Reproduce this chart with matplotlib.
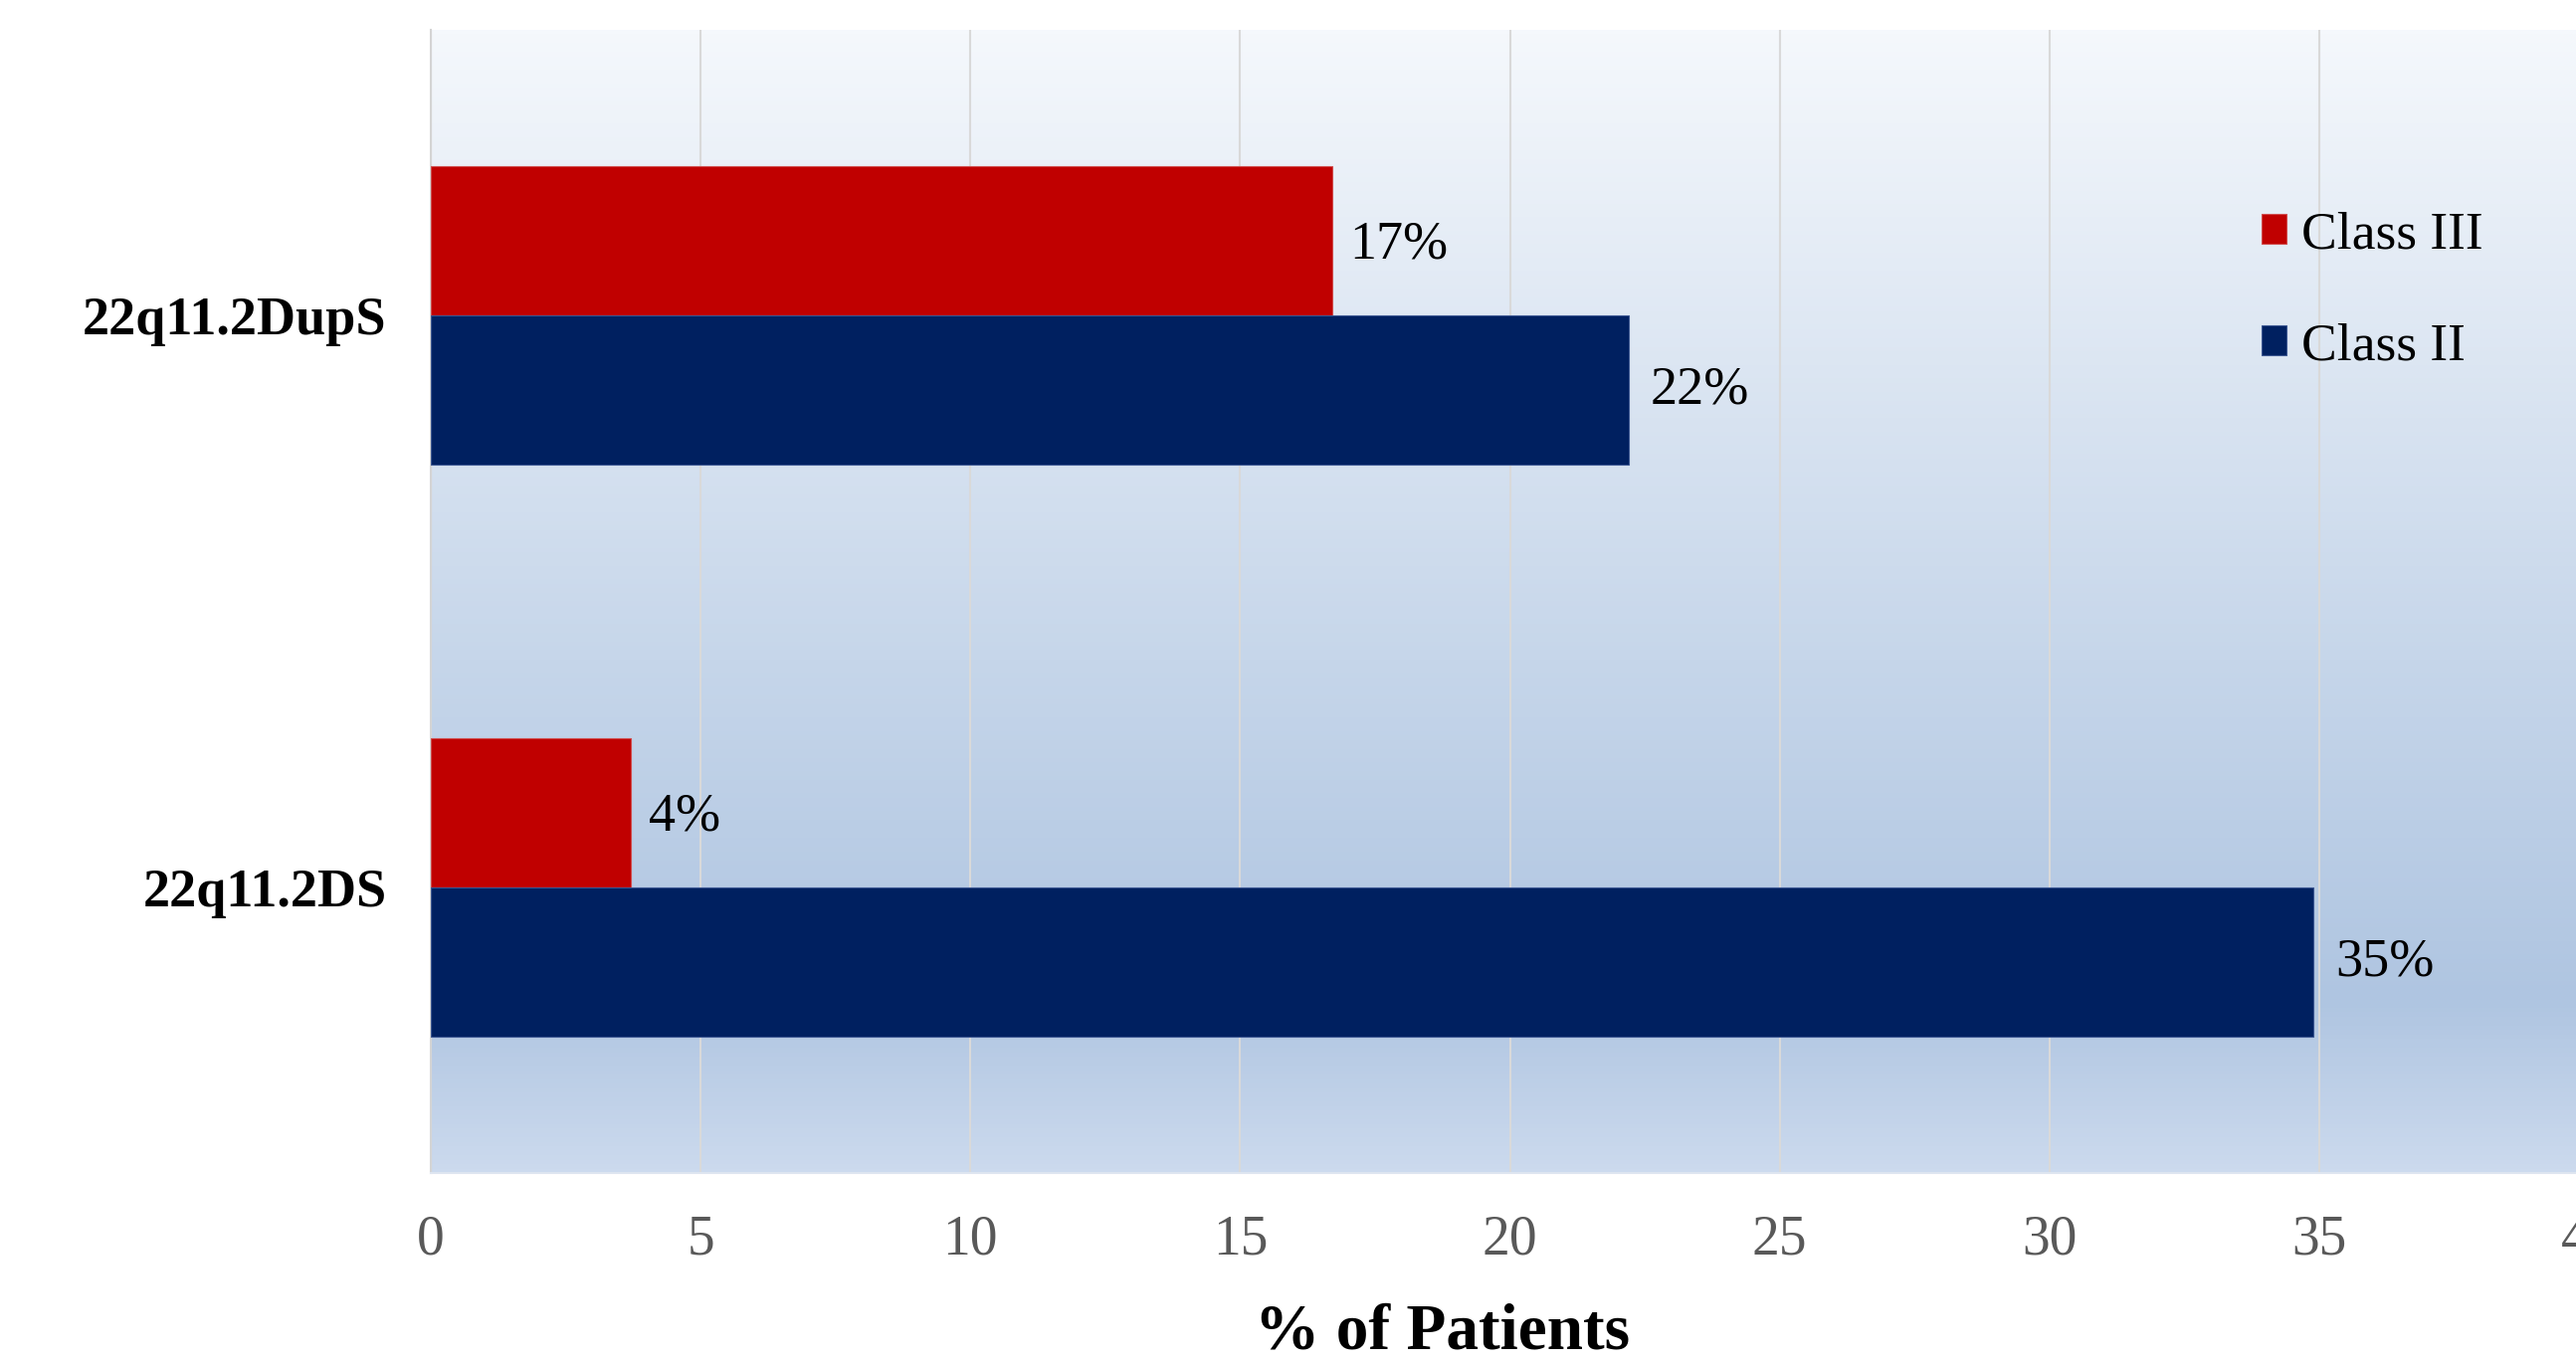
import matplotlib.pyplot as plt
import numpy as np
from matplotlib.colors import LinearSegmentedColormap

plt.rcParams['font.family'] = ['Liberation Serif', 'DejaVu Serif']

# data (top category first)
categories = ['22q11.2DupS', '22q11.2DS']
class_iii = [16.7, 3.7]
class_ii = [22.2, 34.9]
labels_iii = ['17%', '4%']
labels_ii = ['22%', '35%']
xticks = [0, 5, 10, 15, 20, 25, 30, 35, 40]

red = '#C00000'
navy = '#002060'

fig = plt.figure(figsize=(25.89, 13.70), dpi=100)
W, H = 2589, 1370
# plot area in pixels: left 433, right ~2602 (x=40 just off canvas), top 30, bottom 1179
ax = fig.add_axes([433 / W, 1 - 1179 / H, (2602 - 433) / W, (1179 - 30) / H])

# gradient fill of the plot area
cmap = LinearSegmentedColormap.from_list(
    'bg', [(0.0, '#f5f8fc'), (0.55, '#c6d6ea'), (0.85, '#afc5e1'), (1.0, '#ccdaee')])
grad = np.linspace(0, 1, 256).reshape(-1, 1)
ax.imshow(grad, cmap=cmap, aspect='auto', extent=[0, 1, 0, 1],
          transform=ax.transAxes, zorder=0)

h = 0.2615
y = np.arange(len(categories))
ax.barh(y - h / 2, class_iii, height=h, color=red, edgecolor='#d04a4a',
        linewidth=0.8, label='Class III', zorder=3)
ax.barh(y + h / 2, class_ii, height=h, color=navy, edgecolor='#3a5590',
        linewidth=0.8, label='Class II', zorder=3)

for i in range(len(categories)):
    ax.annotate(labels_iii[i], (class_iii[i], y[i] - h / 2), xytext=(13, -3),
                textcoords='offset points', va='center', ha='left',
                fontsize=39, color='black', zorder=4)
    ax.annotate(labels_ii[i], (class_ii[i], y[i] + h / 2), xytext=(16, 0),
                textcoords='offset points', va='center', ha='left',
                fontsize=39, color='black', zorder=4)

ax.set_xlim(0, 40)
ax.set_ylim(1.5, -0.5)
ax.set_xticks(xticks)
ax.set_xticklabels([str(t) for t in xticks])
ax.set_yticks(y)
ax.set_yticklabels(categories, fontweight='bold')
ax.tick_params(axis='x', length=0, pad=30, labelsize=40, labelcolor='#595959')
ax.tick_params(axis='y', length=0, pad=32, labelsize=39, labelcolor='black')

ax.grid(axis='x', color='#d9d9d9', linewidth=1.5, zorder=1)
ax.set_axisbelow(True)
for s in ['top', 'right']:
    ax.spines[s].set_visible(False)
ax.spines['left'].set_color('#d4d4d4')
ax.spines['left'].set_linewidth(1.5)
ax.spines['bottom'].set_color('#dde5f0')
ax.spines['bottom'].set_linewidth(1.5)

fig.text(1450 / W, 1 - 1340 / H, '% of Patients', ha='center', va='center',
         fontsize=47, fontweight='bold')

leg = ax.legend(loc='upper left', bbox_to_anchor=(2273 / W, 1 - 212 / H),
                bbox_transform=fig.transFigure, frameon=False, fontsize=38.5,
                handlelength=0.47, handleheight=0.47, handletextpad=0.28,
                labelspacing=1.2, borderaxespad=0, borderpad=0)

fig.savefig('out.png', dpi=100)
